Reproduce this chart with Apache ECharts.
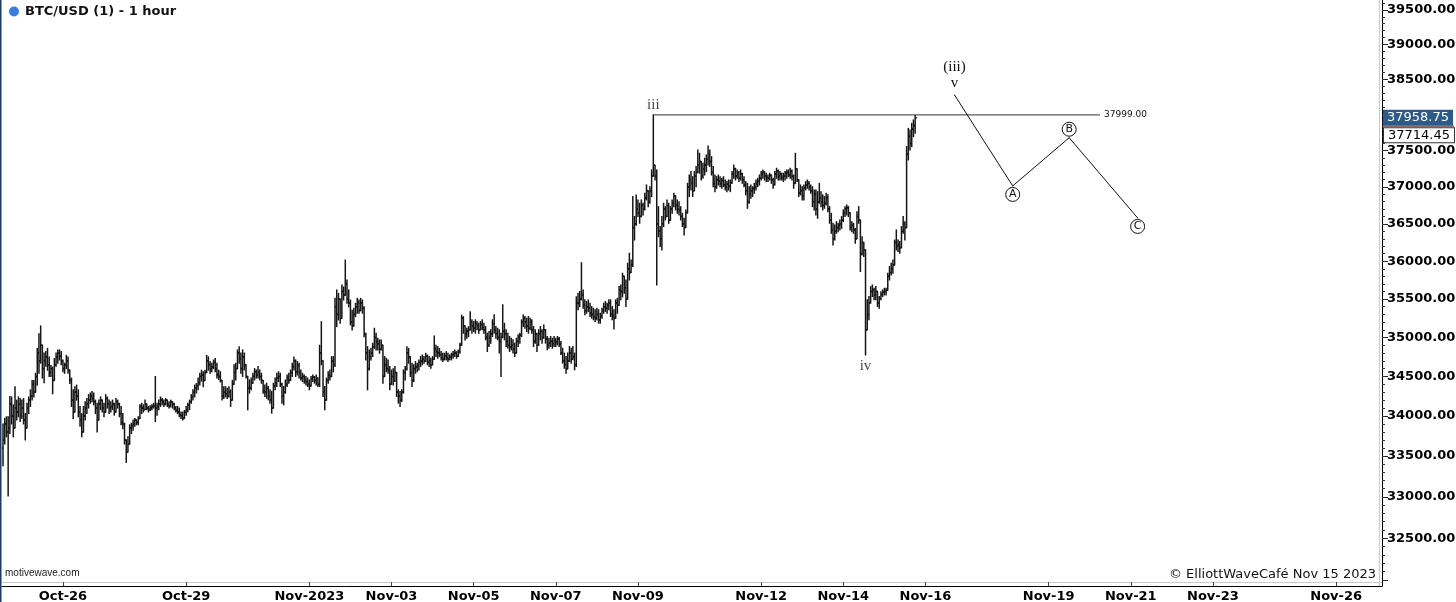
<!DOCTYPE html>
<html>
<head>
<meta charset="utf-8">
<script src="https://cdn.jsdelivr.net/npm/echarts@6/dist/echarts.min.js"></script>
<style>html,body{margin:0;padding:0;background:#fff}#chart{width:1456px;height:602px}</style>
</head>
<body>
<div id="chart"></div>
<script>
// ---------------- DATA ----------------
const firstBarTime = '2023-10-24T13:00:00Z'; // hourly bars, consecutive
const firstOpen = 33600;
const high = [
33900,33970,33990,33990,34245,34240,34140,34370,34200,34240,
34220,34200,34220,34030,34160,34240,34330,34450,34450,34540,
34860,35050,35150,34820,34800,34820,34860,34750,34640,34620,
34730,34800,34840,34840,34820,34710,34670,34770,34750,34580,
34480,34330,34370,34390,34330,34120,34030,34120,34180,34220,
34270,34290,34310,34290,34200,34160,34200,34240,34200,34160,
34270,34240,34200,34180,34200,34160,34220,34200,34160,34120,
34030,33910,33700,33740,33890,33910,33950,33970,33950,33990,
34140,34160,34140,34200,34140,34120,34130,34140,34160,34500,
34160,34200,34240,34220,34200,34220,34200,34180,34200,34180,
34160,34120,34120,34100,34050,34050,34070,34120,34160,34200,
34270,34330,34390,34410,34480,34540,34580,34560,34580,34770,
34750,34690,34670,34710,34730,34670,34580,34560,34430,34370,
34370,34350,34370,34330,34450,34650,34670,34840,34880,34800,
34840,34800,34626,34500,34456,34480,34541,34600,34583,34626,
34583,34541,34435,34393,34414,34372,34330,34310,34414,34480,
34541,34560,34541,34414,34372,34456,34520,34541,34583,34669,
34750,34712,34690,34669,34583,34541,34520,34499,34480,34456,
34499,34520,34499,34520,34480,34900,35205,34669,34372,34480,
34560,34583,34754,34754,35510,35620,35575,35488,35685,35660,
36016,35750,35620,35488,35355,35380,35445,35510,35488,35510,
35488,35400,35055,34882,34840,34860,34925,35120,35055,34990,
34968,34968,34882,34754,34733,34712,34626,34583,34600,34626,
34499,34330,34310,34330,34583,34626,34882,34860,34754,34669,
34650,34690,34669,34712,34754,34775,34754,34797,34775,34754,
34733,34754,35020,34900,34882,34860,34818,34797,34797,34818,
34797,34775,34797,34818,34840,34818,34840,34925,35290,35270,
35141,35120,35141,35336,35230,35207,35230,35207,35185,35207,
35230,35185,35142,35056,35078,35100,35230,35294,35142,35120,
35100,35056,35425,35185,35100,35056,35013,34990,34970,34927,
34990,35035,35056,35230,35294,35272,35250,35272,35250,35230,
35142,35100,35056,35100,35142,35100,35163,35100,35013,34990,
35013,34990,35013,34990,35013,35000,34950,34862,34800,34755,
34800,34884,34862,34884,34800,35530,35576,35600,35980,35620,
35490,35468,35490,35446,35402,35380,35360,35380,35360,35315,
35380,35446,35468,35446,35490,35490,35402,35360,35490,35510,
35664,35686,35840,35796,35752,35973,36106,36017,36870,36600,
36891,36824,36779,36824,36779,36915,37028,36915,37005,37235,
37999,37300,37235,36733,36463,36598,36779,36733,36824,36779,
36733,36824,36915,36870,36824,36801,36733,36643,36575,36688,
37051,37165,37212,37142,37212,37280,37510,37464,37350,37326,
37395,37441,37565,37510,37418,37280,37165,37142,37165,37142,
37120,37142,37096,37074,37096,37096,37212,37303,37258,37235,
37212,37235,37189,37142,37074,37051,37005,37028,37005,37051,
37096,37120,37165,37212,37235,37212,37189,37165,37189,37165,
37120,37212,37258,37235,37212,37189,37189,37212,37235,37235,
37258,37235,37165,37464,37250,37100,37028,37005,37028,37074,
37096,37074,37028,37005,36960,36960,36937,37051,36937,36893,
36870,36915,36893,36733,36643,36508,36485,36530,36508,36553,
36598,36688,36733,36756,36733,36650,36530,36508,36440,36665,
36733,36550,36328,36250,36150,35490,35533,35664,35686,35642,
35664,35600,35533,35598,35620,35642,35642,35840,35929,35973,
36017,36283,36418,36283,36262,36463,36598,36530,37556,37810,
37788,37880,37928,37990
];
const low = [
33380,33650,33740,33010,33780,33900,33740,33990,33950,33990,
33930,33970,33900,33700,33870,34030,34120,34200,34240,34330,
34390,34540,34670,34480,34420,34630,34580,34500,34500,34280,
34480,34630,34670,34710,34650,34560,34540,34600,34540,34410,
34120,33970,34080,34200,33990,33870,33740,33830,33950,34030,
34100,34160,34180,34140,34030,33800,33950,34080,34050,33990,
34080,34100,34030,34050,34080,34010,34080,34100,33990,33890,
33840,33650,33420,33570,33700,33780,33820,33870,33890,33890,
33990,34030,34050,34080,34080,34050,34070,34080,34100,33930,
34010,34080,34120,34140,34120,34140,34120,34100,34120,34100,
34080,34050,34030,33990,33970,33950,33970,34010,34050,34080,
34160,34200,34240,34290,34330,34390,34440,34370,34460,34560,
34580,34540,34560,34600,34560,34480,34460,34430,34200,34220,
34240,34220,34240,34120,34290,34400,34456,34626,34670,34540,
34500,34583,34480,34078,34288,34330,34414,34456,34480,34480,
34456,34414,34288,34246,34225,34204,34162,34036,34183,34330,
34372,34435,34372,34162,34140,34288,34372,34414,34456,34499,
34583,34499,34520,34480,34456,34435,34414,34393,34372,34330,
34393,34435,34414,34393,34372,34372,34650,34246,34078,34288,
34414,34456,34499,34560,34626,35141,35228,35185,35315,35488,
35575,35445,35400,35163,35098,35163,35270,35315,35315,35380,
35315,35011,34712,34330,34583,34712,34754,34860,34840,34840,
34797,34840,34414,34499,34560,34541,34330,34414,34393,34435,
34246,34162,34120,34183,34288,34456,34583,34669,34499,34372,
34435,34541,34560,34583,34626,34650,34669,34690,34650,34626,
34605,34650,34754,34754,34733,34754,34712,34690,34712,34712,
34690,34712,34712,34733,34754,34733,34754,34797,34968,35055,
34968,34990,35011,35098,35056,35078,35056,35100,35056,35100,
35100,35056,34970,34820,34884,34927,35013,35056,34990,34970,
34800,34500,35013,34970,34884,34862,34820,34841,34800,34755,
34841,34884,34927,35013,35142,35120,35078,35056,35100,35056,
34884,34927,34820,34950,34970,34927,34990,34927,34841,34862,
34884,34862,34884,34884,34905,34884,34780,34670,34605,34542,
34627,34692,34670,34713,34585,34627,35360,35402,35490,35380,
35294,35315,35337,35272,35250,35230,35207,35230,35185,35185,
35250,35315,35337,35315,35360,35272,35230,35110,35272,35315,
35446,35490,35530,35576,35402,35664,35752,35863,35929,36283,
36480,36598,36508,36643,36620,36688,36824,36733,36779,36870,
37150,37096,35686,36328,36195,36150,36463,36553,36598,36508,
36553,36643,36733,36688,36643,36620,36553,36463,36350,36450,
36650,36870,36960,36870,36950,37005,37200,37189,37096,37120,
37165,37212,37303,37280,37165,37005,36937,36983,37028,37005,
36983,37005,36960,36937,36960,36937,37051,37120,37096,37120,
37074,37096,37051,37005,36893,36710,36779,36847,36870,36915,
36960,37005,37028,37096,37120,37096,37074,37074,37096,37051,
36983,37030,37120,37096,37096,37096,37074,37096,37120,37142,
37120,37096,36983,37050,37074,36870,36893,36824,36824,36960,
36983,36960,36915,36733,36688,36620,36575,36779,36733,36688,
36710,36756,36665,36508,36373,36217,36283,36373,36395,36418,
36440,36530,36598,36620,36598,36418,36395,36373,36240,36300,
36508,35863,36084,36062,34775,35100,35230,35450,35533,35490,
35490,35402,35380,35490,35533,35555,35555,35620,35752,35818,
35840,35950,36150,36128,36106,36180,36373,36283,36450,37372,
37510,37556,37695,37742
];
const close = [
33700,33900,33800,33850,34150,34000,33850,34100,34050,34150,
34000,34100,33950,33850,34100,34200,34250,34400,34300,34500,
34800,34700,34900,34600,34700,34750,34650,34550,34600,34450,
34650,34750,34800,34760,34700,34600,34650,34700,34580,34450,
34200,34050,34300,34250,34050,33950,33800,34000,34100,34150,
34200,34250,34220,34180,34100,33950,34150,34200,34100,34050,
34220,34150,34100,34120,34150,34050,34180,34150,34030,33920,
33900,33700,33550,33650,33850,33880,33900,33950,33920,33970,
34120,34100,34080,34150,34100,34080,34100,34120,34130,34100,
34120,34150,34200,34180,34150,34200,34140,34120,34180,34150,
34100,34070,34050,34010,34000,33970,34050,34080,34140,34180,
34240,34300,34350,34380,34420,34500,34520,34450,34550,34700,
34650,34600,34620,34680,34600,34520,34500,34450,34250,34300,
34280,34250,34300,34200,34400,34550,34600,34800,34720,34600,
34750,34650,34500,34350,34350,34420,34500,34560,34520,34550,
34500,34450,34320,34300,34350,34250,34200,34100,34380,34420,
34480,34500,34400,34250,34300,34400,34480,34450,34550,34620,
34700,34560,34640,34550,34480,34500,34450,34430,34400,34380,
34470,34490,34450,34480,34400,34800,34700,34300,34200,34450,
34520,34500,34700,34650,35400,35300,35500,35250,35600,35550,
35700,35500,35450,35200,35150,35300,35400,35450,35350,35450,
35380,35050,34800,34600,34750,34800,34880,35000,34950,34920,
34850,34900,34500,34650,34600,34580,34400,34500,34450,34550,
34300,34250,34200,34300,34550,34600,34800,34750,34550,34450,
34600,34620,34640,34680,34700,34720,34700,34760,34680,34700,
34650,34720,34850,34820,34800,34780,34740,34720,34760,34740,
34720,34750,34770,34790,34800,34760,34820,34900,35250,35150,
35050,35080,35100,35200,35150,35120,35180,35150,35100,35170,
35130,35100,35000,34900,35000,35050,35180,35100,35050,35000,
34950,35000,35080,35050,34950,34900,34880,34900,34850,34800,
34950,35000,35030,35200,35250,35200,35150,35120,35200,35100,
34950,35050,34900,35050,35080,35000,35100,34980,34900,34930,
34950,34920,34960,34940,34980,34920,34800,34700,34650,34600,
34700,34800,34720,34750,34650,35450,35450,35500,35550,35420,
35350,35400,35380,35320,35300,35270,35250,35300,35230,35280,
35350,35400,35380,35420,35450,35300,35280,35250,35450,35420,
35620,35600,35800,35650,35500,35900,35850,35950,36450,36500,
36700,36650,36600,36750,36700,36850,36950,36800,36950,37150,
37300,37150,36500,36400,36300,36500,36700,36600,36750,36550,
36700,36780,36880,36750,36700,36680,36600,36500,36450,36650,
37000,37100,37050,36950,37150,37200,37300,37350,37150,37250,
37300,37380,37450,37350,37200,37050,37000,37100,37080,37050,
37090,37030,37000,37040,37010,37060,37180,37250,37150,37200,
37120,37180,37100,37030,36950,36800,36900,36950,36980,37000,
37050,37080,37120,37180,37200,37150,37130,37120,37160,37100,
37030,37180,37220,37150,37180,37130,37150,37190,37200,37170,
37220,37150,37050,37250,37100,36920,36950,36880,36990,37030,
37050,37000,36950,36800,36900,36700,36800,36850,36800,36750,
36780,36850,36700,36550,36420,36300,36400,36450,36480,36500,
36550,36650,36700,36720,36650,36450,36480,36420,36300,36600,
36550,36100,36250,36150,35100,35300,35450,35600,35620,35550,
35600,35450,35500,35560,35590,35600,35620,35800,35850,35900,
35950,36250,36200,36220,36180,36400,36500,36450,37450,37700,
37600,37800,37850,37958.75
];

// x-axis tick labels
const xTickDates  = ['2023-10-26','2023-10-29','2023-11-01','2023-11-03','2023-11-05','2023-11-07','2023-11-09','2023-11-12','2023-11-14','2023-11-16','2023-11-19','2023-11-21','2023-11-23','2023-11-26'];
const xTickLabels = ['Oct-26','Oct-29','Nov-2023','Nov-03','Nov-05','Nov-07','Nov-09','Nov-12','Nov-14','Nov-16','Nov-19','Nov-21','Nov-23','Nov-26'];
// y-axis tick labels (price); 38000 is covered by the last-price box
const priceLabels = [32500,33000,33500,34000,34500,35000,35500,36000,36500,37000,37500,38500,39000,39500];
const priceMajorTicks = [32000,32500,33000,33500,34000,34500,35000,35500,36000,36500,37000,37500,38000,38500,39000,39500];
const priceMinorTicks = [32000,32100,32200,32300,32400,32500,32600,32700,32800,32900,33000,33100,33200,33300,33400,33500,33600,33700,33800,33900,34000,34100,34200,34300,34400,34500,34600,34700,34800,34900,35000,35100,35200,35300,35400,35500,35600,35700,35800,35900,36000,36100,36200,36300,36400,36500,36600,36700,36800,36900,37000,37100,37200,37300,37400,37500,37600,37700,37800,37900,38000,38100,38200,38300,38400,38500,38600,38700,38800,38900,39000,39100,39200,39300,39400,39500,39600];

// Elliott wave labels on price
const waveNames  = ['iii', 'iv'];
const waveTimes  = ['2023-11-09T09:00:00Z', '2023-11-14T13:00:00Z'];
const wavePrices = [37999, 34775];

// horizontal level
const levelPrice = 37999;
const levelStart = '2023-11-09T09:00:00Z';
const levelEnd   = '2023-11-20T06:00:00Z';

// projected path
const projNames  = ['(iii)\nv', 'A', 'B', 'C'];
const projTimes  = ['2023-11-16T17:00:00Z', '2023-11-18T03:00:00Z', '2023-11-19T12:00:00Z', '2023-11-21T04:00:00Z'];
const projPrices = [38280, 37015, 37680, 36580];

// price markers on the axis
const lastPrice = 37958.75;
const refPrice  = 37714.45;

// ---------------- BUILD ----------------
const ORIGIN = Date.parse('2023-10-26T00:00:00Z');
const toHour = s => (Date.parse(s) - ORIGIN) / 3600000;
const ln = Math.log;
const firstHour = toHour(firstBarTime);

const bars = [];
let prevClose = firstOpen;
for (let i = 0; i < close.length; i++) {
  const o = prevClose, c = close[i];
  const h = Math.max(high[i], o, c), l = Math.min(low[i], o, c);
  bars.push([firstHour + i, ln(o), ln(h), ln(l), ln(c)]);
  prevClose = c;
}

const tickHours = xTickDates.map(d => toHour(d + 'T00:00:00Z'));
function hourLabel(v) {
  for (let k = 0; k < tickHours.length; k++) if (Math.abs(tickHours[k] - v) < 0.01) return xTickLabels[k];
  return '';
}

const X_MIN = -35.6, X_MAX = 770.8;            // axis range in hours from Oct-26
const Y_MIN = ln(31931), Y_MAX = ln(39646);    // log price range

const BAR_COLOR = '#161616';
function renderOHLC(params, api) {
  const t = api.value(0);
  const pH = api.coord([t, api.value(2)]);
  const pL = api.coord([t, api.value(3)]);
  const pO = api.coord([t, api.value(1)]);
  const pC = api.coord([t, api.value(4)]);
  const x = pH[0];
  const st = {stroke: BAR_COLOR, lineWidth: 1.5};
  return {type: 'group', children: [
    {type: 'line', shape: {x1: x, y1: pH[1] - 0.5, x2: x, y2: pL[1] + 0.5}, style: st},
    {type: 'line', shape: {x1: x - 1.7, y1: pO[1], x2: x, y2: pO[1]}, style: st},
    {type: 'line', shape: {x1: x, y1: pC[1], x2: x + 1.7, y2: pC[1]}, style: st}
  ]};
}

const romanStyle = {fontFamily: 'Liberation Serif', fontSize: 15, color: '#111'};
const circleStyle = {fontFamily: 'DejaVu Sans', fontSize: 11, color: '#111', width: 14, height: 14, lineHeight: 14,
  borderColor: '#111', borderWidth: 1, borderRadius: 8};
const projPlacement = [
  Object.assign({position: 'top', distance: 3, lineHeight: 16}, romanStyle),
  Object.assign({position: 'bottom', distance: 1}, circleStyle),
  Object.assign({position: 'top', distance: 1}, circleStyle),
  Object.assign({position: 'bottom', distance: 1}, circleStyle)
];
const wavePlacement = [
  Object.assign({position: 'top', distance: 2}, romanStyle),
  Object.assign({position: 'bottom', distance: 3}, romanStyle)
];

const chart = echarts.init(document.getElementById('chart'), null, {renderer: 'canvas'});
chart.setOption({
  animation: false,
  backgroundColor: '#ffffff',
  textStyle: {fontFamily: 'DejaVu Sans'},
  title: {
    left: 9, top: 5, padding: 0,
    text: '{d|}{g|}BTC/USD (1) - 1 hour',
    textStyle: {fontSize: 13, fontWeight: 'bold', color: '#111', fontFamily: 'DejaVu Sans',
      rich: {d: {width: 10, height: 10, borderRadius: 5, backgroundColor: '#3d7edb'}, g: {width: 6}}}
  },
  grid: {left: 2, right: 74, top: 0, bottom: 16, containLabel: false, outerBoundsMode: 'none'},
  xAxis: {
    type: 'value', min: X_MIN, max: X_MAX,
    axisLine: {show: true, onZero: false, lineStyle: {color: '#000', width: 1}},
    axisTick: {show: true, inside: true, length: 4, customValues: tickHours, lineStyle: {color: '#444'}},
    axisLabel: {customValues: tickHours, formatter: v => hourLabel(v), color: '#000', fontWeight: 'bold',
      fontSize: 13, margin: 4, fontFamily: 'DejaVu Sans'},
    splitLine: {show: false}
  },
  yAxis: [
    {
      type: 'value', position: 'right', min: Y_MIN, max: Y_MAX, offset: 0,
      axisLine: {show: true, onZero: false, lineStyle: {color: '#000', width: 1}},
      axisTick: {show: true, length: 6, customValues: priceMajorTicks.map(ln), lineStyle: {color: '#222'}},
      axisLabel: {customValues: priceLabels.map(ln), formatter: v => Math.exp(v).toFixed(2),
        color: '#000', fontWeight: 'bold', fontSize: 13, margin: 5, fontFamily: 'DejaVu Sans'},
      splitLine: {show: false}
    },
    {
      type: 'value', position: 'right', min: Y_MIN, max: Y_MAX, offset: 0,
      axisLine: {show: false, onZero: false},
      axisTick: {show: true, length: 3, customValues: priceMinorTicks.map(ln), lineStyle: {color: '#333'}},
      axisLabel: {show: false},
      splitLine: {show: false}
    }
  ],
  series: [
    {
      type: 'custom', name: 'BTC/USD', data: bars, encode: {x: 0, y: [1, 2, 3, 4]},
      renderItem: renderOHLC, clip: true, silent: true, z: 3
    },
    {
      type: 'line', name: 'level', silent: true, z: 4,
      data: [[toHour(levelStart), ln(levelPrice)], [toHour(levelEnd), ln(levelPrice)]],
      symbol: 'none', lineStyle: {color: '#333', width: 1},
      endLabel: {show: true, formatter: levelPrice.toFixed(2), fontSize: 9, color: '#111', distance: 4, fontFamily: 'DejaVu Sans'}
    },
    {
      type: 'line', name: 'projection', silent: true, z: 4,
      data: projTimes.map((t, k) => ({name: projNames[k], value: [toHour(t), ln(projPrices[k])],
        label: Object.assign({show: true, formatter: '{b}'}, projPlacement[k])})),
      symbol: 'circle', symbolSize: 1, itemStyle: {color: '#111'},
      lineStyle: {color: '#111', width: 1}
    },
    {
      type: 'scatter', name: 'waves', silent: true, z: 5,
      data: waveTimes.map((t, k) => ({name: waveNames[k], value: [toHour(t), ln(wavePrices[k])],
        label: Object.assign({show: true, formatter: '{b}'}, wavePlacement[k])})),
      symbolSize: 1, itemStyle: {color: 'rgba(0,0,0,0)'}
    }
  ],
  graphic: [
    {type: 'line', silent: true, shape: {x1: 0.5, y1: 0, x2: 0.5, y2: 602}, style: {stroke: '#1f3b63', lineWidth: 2}},
    {type: 'line', silent: true, shape: {x1: 2, y1: 582.5, x2: 1382, y2: 582.5}, style: {stroke: '#cacaca', lineWidth: 1}},
    {type: 'line', silent: true, shape: {x1: 1379.5, y1: 0, x2: 1379.5, y2: 586}, style: {stroke: '#cacaca', lineWidth: 1}},
    {type: 'text', silent: true, left: 5, top: 568, style: {text: 'motivewave.com', fill: '#222', font: '10px "Liberation Sans"'}},
    {type: 'text', silent: true, right: 80, top: 568, style: {text: '© ElliottWaveCafé Nov 15 2023', fill: '#111', font: '13px "DejaVu Sans"'}}
  ]
});

// price marker boxes on the right axis, placed through the axis scale
const axisX = chart.convertToPixel({xAxisIndex: 0}, X_MAX);
const yLast = chart.convertToPixel({yAxisIndex: 0}, ln(lastPrice));
const yRef  = chart.convertToPixel({yAxisIndex: 0}, ln(refPrice));
chart.setOption({
  graphic: [
    {type: 'text', id: 'lastBox', silent: true, z: 100, x: axisX + 1, y: yLast,
      style: {text: lastPrice.toFixed(2), fill: '#fff', font: '13px "DejaVu Sans"', verticalAlign: 'middle',
        backgroundColor: '#2c5b8a', padding: [2, 4, 1, 4]}},
    {type: 'line', id: 'lastUnder', silent: true, z: 100,
      shape: {x1: axisX, y1: yLast + 8.5, x2: axisX + 72, y2: yLast + 8.5}, style: {stroke: '#6b3a2e', lineWidth: 1}},
    {type: 'text', id: 'refBox', silent: true, z: 100, x: axisX + 2, y: yRef,
      style: {text: refPrice.toFixed(2), fill: '#000', font: '13px "DejaVu Sans"', verticalAlign: 'middle',
        backgroundColor: '#fff', borderColor: '#333', borderWidth: 1, padding: [1, 4, 0, 4]}}
  ]
});
</script>
</body>
</html>
